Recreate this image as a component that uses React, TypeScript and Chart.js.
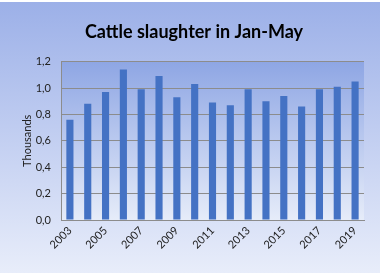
import React, { useEffect, useRef } from "react";
import { Chart, registerables } from "chart.js";

Chart.register(...registerables);

const years = [
  "2003", "2004", "2005", "2006", "2007", "2008", "2009", "2010", "2011",
  "2012", "2013", "2014", "2015", "2016", "2017", "2018", "2019",
];
const slaughter = [
  0.76, 0.88, 0.97, 1.14, 0.99, 1.09, 0.93, 1.03, 0.89,
  0.87, 0.99, 0.9, 0.94, 0.86, 0.99, 1.01, 1.05,
];
const titleText = "Cattle slaughter in Jan-May";
const yTitle = "Thousands";

const bgPlugin = {
  id: "bgPlugin",
  afterLayout(chart: any) {
    if (chart.titleBlock) {
      chart.titleBlock.left = 6;
      chart.titleBlock.right = 382;
    }
  },
  beforeDraw(chart: any) {
    const ctx = chart.ctx;
    const { width, height, chartArea } = chart;
    ctx.save();
    ctx.fillStyle = "#ffffff";
    ctx.fillRect(0, 0, width, height);
    const g = ctx.createLinearGradient(0, 2, 0, 273);
    g.addColorStop(0, "#9cb0e8");
    g.addColorStop(1, "#e8edfa");
    ctx.fillStyle = g;
    ctx.fillRect(0, 2, 380, 271);
    const g2 = ctx.createLinearGradient(0, chartArea.top, 0, chartArea.bottom);
    g2.addColorStop(0, "#8ea6e4");
    g2.addColorStop(1, "#e6ecf9");
    ctx.fillStyle = g2;
    ctx.fillRect(
      chartArea.left,
      chartArea.top,
      chartArea.right - chartArea.left,
      chartArea.bottom - chartArea.top
    );
    ctx.restore();
  },
};

export default function App() {
  const ref = useRef<HTMLCanvasElement>(null);
  useEffect(() => {
    document.body.style.margin = "0";
    const chart = new Chart(ref.current!, {
      type: "bar",
      data: {
        labels: years,
        datasets: [
          {
            data: slaughter,
            backgroundColor: "#4472c4",
            borderWidth: 0,
            barPercentage: 0.4,
            categoryPercentage: 1,
          },
        ],
      },
      options: {
        animation: false,
        responsive: false,
        layout: { padding: { left: 0, right: 18, top: 0, bottom: 0 } },
        plugins: {
          legend: { display: false },
          tooltip: { enabled: false },
          title: {
            display: true,
            text: titleText,
            color: "#000000",
            font: { family: "Lato", size: 18, weight: "bold" },
            padding: { top: 21, bottom: 19 },
          },
        },
        scales: {
          x: {
            grid: { display: false, drawTicks: false },
            border: { display: true, color: "#8c8c8c" },
            ticks: {
              autoSkip: false,
              maxRotation: 45,
              minRotation: 45,
              padding: 4,
              color: "#222222",
              font: { family: "Lato", size: 11 },
              callback: (_v: any, i: number) => (i % 2 === 0 ? years[i] : ""),
            },
            afterFit: (s: any) => {
              s.height = 58;
            },
          },
          y: {
            min: 0,
            max: 1.2,
            grid: { color: "#8c8c8c", drawTicks: false },
            border: { display: true, color: "#8c8c8c" },
            ticks: {
              stepSize: 0.2,
              padding: 10,
              color: "#222222",
              font: { family: "Lato", size: 11 },
              callback: (v: any) => Number(v).toFixed(1).replace(".", ","),
            },
            title: {
              display: true,
              text: yTitle,
              color: "#222222",
              font: { family: "Lato", size: 11 },
              padding: { top: 21, bottom: 0 },
            },
            afterFit: (s: any) => {
              s.width = 61;
            },
          },
        },
      },
      plugins: [bgPlugin],
    });
    return () => chart.destroy();
  }, []);
  return (
    <div style={{ position: "absolute", left: 0, top: 0, width: 382, height: 278 }}>
      <canvas ref={ref} width={382} height={278} style={{ display: "block" }} />
    </div>
  );
}
